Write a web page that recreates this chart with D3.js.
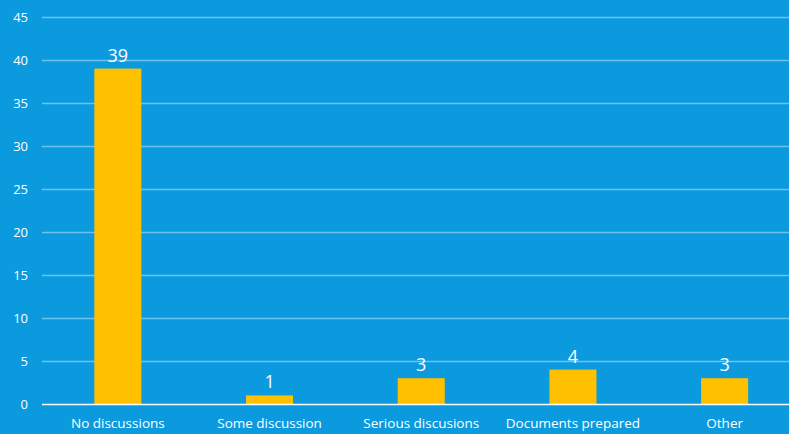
<!DOCTYPE html>
<html><head><meta charset="utf-8">
<script src="https://cdn.jsdelivr.net/npm/d3@7"></script>
<style>
html,body{margin:0;padding:0;background:#0b9ade;}
svg{display:block;font-family:"Open Sans",sans-serif;}
</style></head>
<body><svg id="c" width="789" height="434"></svg>
<script>
const categories = ["No discussions","Some discussion","Serious discusions","Documents prepared","Other"];
const values = [39,1,3,4,3];
const yTicks = [0,5,10,15,20,25,30,35,40,45];

const W = 789, H = 434;
const svg = d3.select("#c");
svg.append("rect").attr("width",W).attr("height",H).attr("fill","#0b9ade");

const x = d3.scaleBand().domain(categories).range([42, 800.5]).padding(0);
const y = d3.scaleLinear().domain([0,45]).range([404,17]);
const barW = x.bandwidth()*0.31;

// gridlines
svg.append("g").selectAll("line").data(yTicks.filter(d=>d>0)).join("line")
  .attr("x1",42).attr("x2",W).attr("y1",d=>Math.round(y(d))+0.5).attr("y2",d=>Math.round(y(d))+0.5)
  .attr("stroke","#6cc3ef").attr("stroke-width",1.3);

// y axis
const yAxis = d3.axisLeft(y).tickValues(yTicks).tickSize(0).tickPadding(0);
const gy = svg.append("g").attr("transform","translate(28,0)").call(yAxis);
gy.select(".domain").remove();
gy.selectAll("text").attr("fill","#ffffff").attr("font-size",13).attr("font-family","\"Open Sans\",sans-serif");

// bars
svg.append("g").selectAll("rect").data(values).join("rect")
  .attr("x",(d,i)=>x(categories[i])+x.bandwidth()/2-barW/2)
  .attr("width",barW)
  .attr("y",d=>y(d)).attr("height",d=>y(0)-y(d))
  .attr("fill","#ffc000");

// baseline
svg.append("line").attr("x1",42).attr("x2",W).attr("y1",404.5).attr("y2",404.5)
  .attr("stroke","#ffffff").attr("stroke-width",1.5);

// value labels
svg.append("g").selectAll("text").data(values).join("text")
  .attr("x",(d,i)=>x(categories[i])+x.bandwidth()/2)
  .attr("y",d=>y(d)-7)
  .attr("text-anchor","middle").attr("fill","#ffffff").attr("font-size",18)
  .text(d=>d);

// x axis
const xAxis = d3.axisBottom(x).tickSize(0).tickPadding(0);
const gx = svg.append("g").attr("transform","translate(0,418)").call(xAxis);
gx.select(".domain").remove();
gx.selectAll("text").attr("fill","#ffffff").attr("font-size",13.5).attr("font-family","\"Open Sans\",sans-serif");
</script></body></html>
